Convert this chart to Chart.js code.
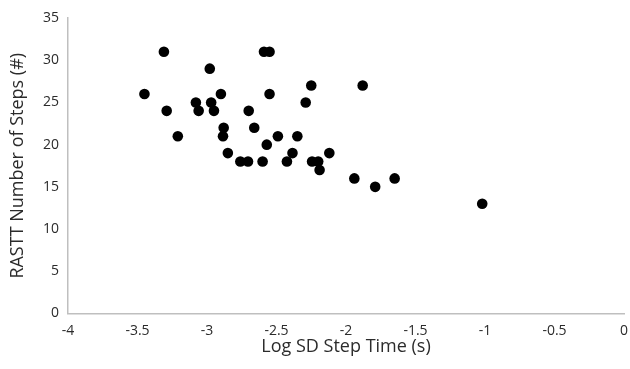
<!DOCTYPE html>
<html><head><meta charset="utf-8">
<script src="https://cdn.jsdelivr.net/npm/chart.js@4"></script>
<style>html,body{margin:0;padding:0;background:#fff}#w{width:630px;height:369px}</style>
</head><body><div id="w"><canvas id="c"></canvas></div>
<script>
const xValues = [-3.45,-3.31,-3.29,-3.21,-3.08,-3.06,-2.98,-2.97,-2.95,-2.90,-2.88,-2.885,-2.85,-2.76,-2.705,-2.70,-2.66,-2.60,-2.59,-2.55,-2.57,-2.55,-2.49,-2.425,-2.385,-2.35,-2.29,-2.25,-2.244,-2.20,-2.19,-2.12,-1.94,-1.88,-1.79,-1.65,-1.02];
const yValues = [26,31,24,21,25,24,29,25,24,26,22,21,19,18,18,24,22,18,31,31,20,26,21,18,19,21,25,27,18,18,17,19,16,27,15,16,13];
const xTitle = "Log SD Step Time (s)";
const yTitle = "RASTT Number of Steps (#)";
const points = xValues.map((x,i)=>({x:x,y:yValues[i]}));
const font = "'Open Sans', sans-serif";
const txt = '#2b2b2b';
new Chart(document.getElementById('c'), {
  type:'scatter',
  data:{datasets:[{data:points,backgroundColor:'#000',borderColor:'#000',borderWidth:0,pointRadius:5.3,pointHoverRadius:5.3}]},
  options:{
    responsive:true,maintainAspectRatio:false,animation:false,
    layout:{padding:{top:18,right:6,left:0,bottom:0}},
    plugins:{legend:{display:false},tooltip:{enabled:false}},
    scales:{
      x:{type:'linear',min:-4,max:0,
        afterFit:s=>{s.height=55.5;s.paddingLeft=0;s.paddingRight=0;},
        grid:{display:false,drawTicks:false},
        border:{color:'#bfbfbf',width:1.5},
        ticks:{stepSize:0.5,padding:9,color:txt,font:{family:font,size:14},callback:v=>String(Number(v))},
        title:{display:true,text:xTitle,color:txt,font:{family:font,size:18},padding:{top:0,bottom:11}}
      },
      y:{type:'linear',min:0,max:35,
        afterFit:s=>{s.width=68;s.paddingTop=0;s.paddingBottom=0;},
        grid:{display:false,drawTicks:false},
        border:{color:'#bfbfbf',width:1.5},
        ticks:{stepSize:5,padding:9,color:txt,font:{family:font,size:14}},
        title:{display:true,text:yTitle,color:txt,font:{family:font,size:18},padding:{top:7,bottom:0}}
      }
    }
  }
});
</script></body></html>
